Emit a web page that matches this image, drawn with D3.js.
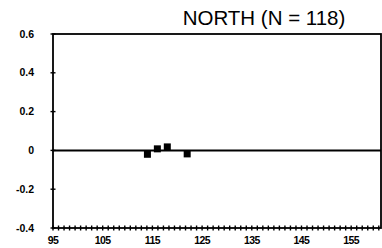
<!DOCTYPE html>
<html>
<head>
<meta charset="utf-8">
<script src="https://cdn.jsdelivr.net/npm/d3@7"></script>
<style>
body { margin: 0; background: #fff; }
text { font-family: "Liberation Sans", Arial, sans-serif; }
</style>
</head>
<body>
<div id="chart"></div>
<script>
var width = 382;
var height = 248;

// data
var title = "NORTH (N = 118)";
var xValues = [114, 116, 118, 122];
var yValues = [-0.02, 0.008, 0.018, -0.018];
var xTickLabels = [95, 105, 115, 125, 135, 145, 155];
var yTickLabels = [-0.4, -0.2, 0, 0.2, 0.4, 0.6];

var margin = {top: 34, right: 1, bottom: 20, left: 53};

var svg = d3.select("#chart")
  .append("svg")
  .attr("width", width)
  .attr("height", height);

var x = d3.scaleLinear()
  .domain([95, 161])
  .range([margin.left, width - margin.right]);

var y = d3.scaleLinear()
  .domain([-0.4, 0.6])
  .range([height - margin.bottom, margin.top]);

// frame
svg.append("rect")
  .attr("x", x(95))
  .attr("y", y(0.6))
  .attr("width", x(161) - x(95))
  .attr("height", y(-0.4) - y(0.6))
  .attr("fill", "none")
  .attr("stroke", "#000")
  .attr("stroke-width", 1.8);

// zero line
svg.append("line")
  .attr("x1", x(95)).attr("x2", x(161))
  .attr("y1", y(0)).attr("y2", y(0))
  .attr("stroke", "#000")
  .attr("stroke-width", 2);

// minor ticks on the bottom axis (crosses)
var minor = d3.range(95, 161, 10 / 9);
svg.append("g")
  .selectAll("line")
  .data(minor)
  .enter()
  .append("line")
  .attr("x1", d => x(d)).attr("x2", d => x(d))
  .attr("y1", y(-0.4) - 2.5).attr("y2", y(-0.4) + 2.5)
  .attr("stroke", "#000")
  .attr("stroke-width", 1.4);

// x labels
svg.append("g")
  .selectAll("text")
  .data(xTickLabels)
  .enter()
  .append("text")
  .attr("x", d => x(d))
  .attr("y", height - 4)
  .attr("text-anchor", "middle")
  .style("font-size", "10.5px")
  .style("font-weight", "bold")
  .style("letter-spacing", "-0.6px")
  .text(d => d);

// y ticks (crosses) and labels
var yAxis = svg.append("g");
yAxis.selectAll("line")
  .data(yTickLabels)
  .enter()
  .append("line")
  .attr("x1", x(95) - 2.5).attr("x2", x(95) + 2.5)
  .attr("y1", d => y(d)).attr("y2", d => y(d))
  .attr("stroke", "#000")
  .attr("stroke-width", 1.4);

yAxis.selectAll("text")
  .data(yTickLabels)
  .enter()
  .append("text")
  .attr("x", 34)
  .attr("y", d => y(d))
  .attr("dy", ".35em")
  .attr("text-anchor", "end")
  .style("font-size", "10.5px")
  .style("font-weight", "bold")
  .text(d => d === 0 ? "0" : d.toFixed(1));

// points
svg.append("g")
  .selectAll("rect")
  .data(xValues)
  .enter()
  .append("rect")
  .attr("x", (d, i) => x(d) - 3.5)
  .attr("y", (d, i) => y(yValues[i]) - 3.5)
  .attr("width", 7)
  .attr("height", 7)
  .attr("fill", "#000");

// title
svg.append("text")
  .attr("x", 264)
  .attr("y", 25)
  .attr("text-anchor", "middle")
  .style("font-size", "20.5px")
  .text(title);
</script>
</body>
</html>
